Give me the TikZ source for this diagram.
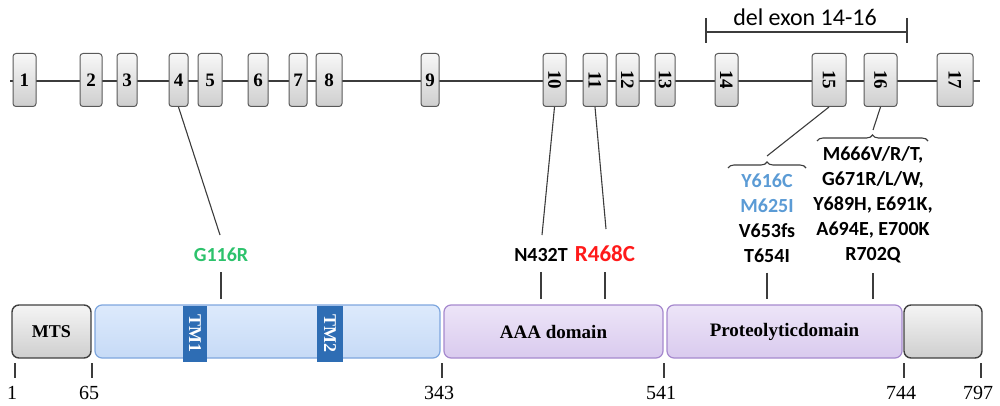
\documentclass[tikz,border=0pt]{standalone}
\usepackage{fontspec}
\setmainfont{Liberation Serif}
\newfontfamily\calibri{Carlito}
\usepackage{graphicx}
\usepackage{xcolor}
\usetikzlibrary{positioning, calc, decorations.pathreplacing}

\definecolor{lineGrey}{HTML}{3C3C3C}
\definecolor{tmdEdge}{HTML}{7EA6DE}
\definecolor{tmdTop}{HTML}{DDEAFC}
\definecolor{tmdBot}{HTML}{C6DAF6}
\definecolor{tmBlue}{HTML}{2E6DB4}
\definecolor{aaaEdge}{HTML}{A689CE}
\definecolor{aaaTop}{HTML}{EDE5F8}
\definecolor{aaaBot}{HTML}{D9CAEE}
\definecolor{mutGreen}{HTML}{2DC26C}
\definecolor{mutBlue}{HTML}{5B9BD5}
\definecolor{mutRed}{HTML}{FF1A1A}

\begin{document}
\begin{tikzpicture}[
    x=1pt, y=-1pt,
    exon/.style={rectangle, rounded corners=3pt, draw=black!65, line width=1pt, top color=gray!6, bottom color=gray!38, minimum height=53pt, inner sep=0pt, font=\bfseries\fontsize{19}{19}\selectfont},
    greybox/.style={rectangle, rounded corners=7pt, draw=black!75, line width=1.4pt, top color=gray!8, bottom color=gray!38, minimum height=53pt, inner sep=0pt, font=\bfseries\fontsize{18}{18}\selectfont},
    tmdbox/.style={rectangle, rounded corners=7pt, draw=tmdEdge, line width=1.2pt, top color=tmdTop, bottom color=tmdBot, minimum height=53pt, inner sep=0pt},
    tmseg/.style={rectangle, fill=tmBlue, minimum height=56pt, inner sep=0pt, text=white, font=\bfseries\fontsize{18}{18}\selectfont},
    aaabox/.style={rectangle, rounded corners=7pt, draw=aaaEdge, line width=1.2pt, top color=aaaTop, bottom color=aaaBot, minimum height=53pt, inner sep=0pt, font=\bfseries\fontsize{19}{19}\selectfont},
    mut/.style={font=\calibri\bfseries\fontsize{20}{25}\selectfont, align=center, inner sep=2pt},
    link/.style={draw=lineGrey, line width=1.1pt},
    poslab/.style={font=\fontsize{20}{20}\selectfont, inner sep=0pt}
]
\useasboundingbox (0,0) rectangle (1000,406);

% gene with exons
\coordinate (gs) at (10,81);
\coordinate (ge) at (980,81);
\draw[link, line width=1.3pt] (gs) -- (ge);
\foreach \n/\x/\w in {1/24.5/23, 2/91/22, 3/127/20, 4/178.5/19, 5/210/24, 6/258/20, 7/298/18, 8/329/26, 9/430/18}
    \node[exon, minimum width=\w pt] (e\n) at (\x,80) {\n};
\foreach \n/\x/\w in {10/554.5/23, 11/595/24, 12/627.5/23, 13/665/20, 14/726.5/23, 15/829/34, 16/880.5/33, 17/955/36}
    \node[exon, minimum width=\w pt] (e\n) at (\x,80) {\rotatebox{-90}{\n}};

% deleted exons
\node[font=\calibri\fontsize{24}{24}\selectfont] (delx) at (805,17) {del exon 14-16};
\draw[link] (706,18) -- (706,43);
\draw[link] (907,18) -- (907,43);
\draw[link] (706,32) -- (907,32);

% protein domains
\node[greybox, minimum width=79pt] (mts) at (51.5,331.5) {MTS};
\node[tmdbox, minimum width=345pt] (tmd) at (267.5,331.5) {};
\node[tmseg, minimum width=24pt] (tm1) at (195,333.5) {\rotatebox{-90}{TM1}};
\node[tmseg, minimum width=26pt] (tm2) at (330,333.5) {\rotatebox{-90}{TM2}};
\node[aaabox, minimum width=219pt] (aaa) at (553.5,331.5) {AAA domain};
\node[aaabox, minimum width=235pt] (prot) at (784.5,331.5) {Proteolyticdomain};
\node[greybox, minimum width=78pt] (cterm) at (943,331.5) {};

% mutations
\node[mut, text=mutGreen] (g116r) at (221,255) {G116R};
\node[mut] (n432t) at (541,255) {N432T};
\node[mut, text=mutRed, font=\calibri\bfseries\fontsize{23}{25}\selectfont] (r468c) at (605,254) {R468C};
\node[mut] (mut15) at (767,218) {\textcolor{mutBlue}{Y616C}\\ \textcolor{mutBlue}{M625I}\\ V653fs\\ T654I};
\node[mut] (mut16) at (873,205) {M666V/R/T,\\ G671R/L/W,\\ Y689H, E691K,\\ A694E, E700K\\ R702Q};

\coordinate (c116) at (220,235);
\coordinate (c432) at (542,235);
\coordinate (c468) at (606,229);
\coordinate (br15) at (767,156);
\coordinate (br16) at (873,130);

\draw[link] (e4.south) -- (c116);
\draw[link] (e10.south) -- (c432);
\draw[link] (e11.south) -- (c468);
\draw[link] (e15.south) -- (br15);
\draw[link] (e16.south) -- (br16);
\draw[link, decorate, decoration={brace, amplitude=6pt}] (728,168) -- (806,168);
\draw[link, decorate, decoration={brace, amplitude=6pt}] (817,141) -- (928,141);

% ticks down to the domains
\draw[link] (g116r.south) ++(0,8) -- (g116r.south |- tmd.north) [shorten >=5pt];
\draw[link] (n432t.south) ++(0,8) -- (n432t.south |- aaa.north) [shorten >=5pt];
\draw[link] (r468c.south) ++(0,8) -- (r468c.south |- aaa.north) [shorten >=5pt];
\draw[link] (mut15.south) ++(0,8) -- (mut15.south |- prot.north) [shorten >=5pt];
\draw[link] (mut16.south) ++(0,8) -- (mut16.south |- prot.north) [shorten >=5pt];

% residue positions
\foreach \x/\n in {15/1, 92/65, 442/343, 664/541, 904/744, 981/797} {
    \coordinate (k\n) at (\x,363);
    \draw[link] (k\n) -- ++(0,15);
    \node[poslab] (p\n) at (\x-3,393) {\n};
}
\end{tikzpicture}
\end{document}
